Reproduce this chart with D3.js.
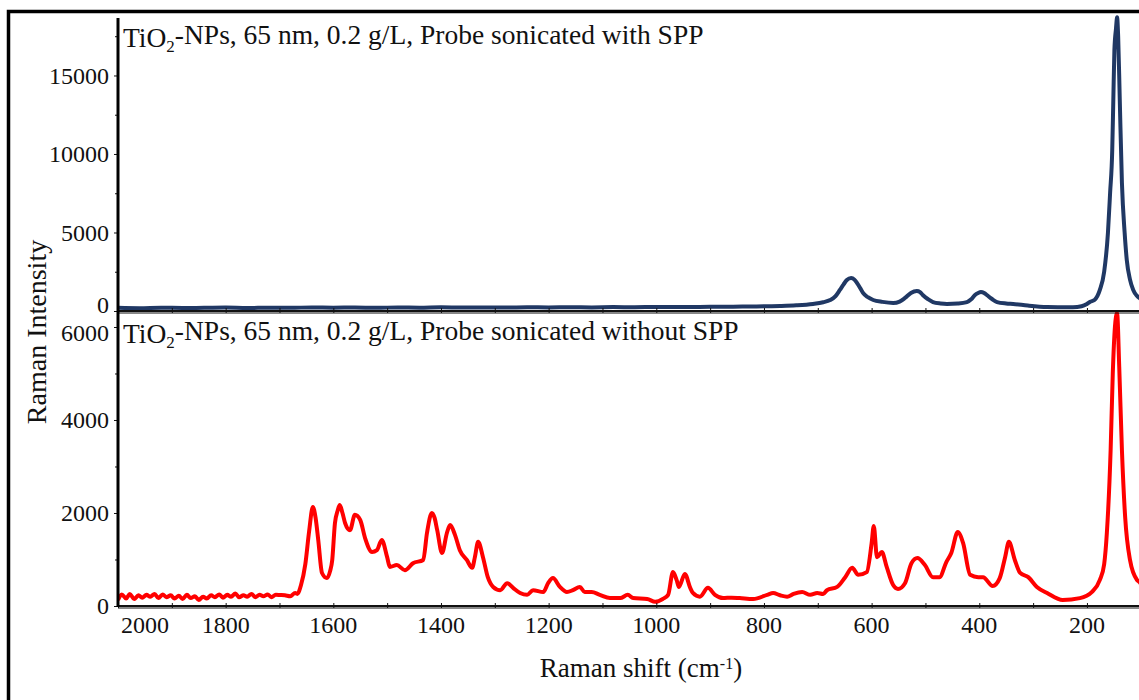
<!DOCTYPE html>
<html>
<head>
<meta charset="utf-8">
<script src="https://cdn.jsdelivr.net/npm/d3@7"></script>
<style>
    body { margin: 0; background: #fff; }
    svg text { font-family: "Liberation Serif", "Times New Roman", serif; fill: #111; }
    .axis path, .axis line { stroke: #111; }
</style>
</head>
<body>
<div id="chart"></div>
<script>
// Raman shift (cm-1) and intensity
var withSppShift = [2000, 1960, 1920, 1880, 1840, 1800, 1760, 1720, 1680, 1640, 1600, 1560, 1520, 1480, 1440, 1400, 1360, 1320, 1280, 1240, 1200, 1160, 1120, 1080, 1040, 1000, 960, 920, 880, 840, 800, 770, 740, 709, 690, 677, 667, 659, 652, 646, 638, 632, 627, 621, 616, 607, 597, 580, 560, 548, 538, 527, 516, 510, 505, 495, 486, 472, 460, 440, 423, 415, 408, 402, 397, 391, 386, 377, 367, 350, 337, 310, 274, 250, 226, 210, 200, 194, 186, 176, 168, 161, 157, 153, 151, 149, 146, 144, 142, 139, 135, 130, 126, 120, 114, 108, 103, 100];
var withSppIntensity = [200, 180, 210, 190, 200, 220, 190, 210, 200, 230, 210, 220, 200, 230, 210, 240, 220, 230, 220, 240, 230, 240, 230, 250, 240, 260, 250, 260, 270, 280, 300, 320, 360, 450, 560, 700, 950, 1340, 1700, 1970, 2100, 2000, 1780, 1450, 1150, 880, 700, 580, 510, 600, 830, 1150, 1270, 1200, 1020, 750, 570, 480, 450, 480, 570, 750, 1020, 1150, 1210, 1150, 1020, 780, 570, 480, 450, 350, 255, 240, 235, 300, 450, 590, 700, 1340, 2500, 4970, 7500, 10250, 13440, 16600, 18000, 18700, 17500, 13440, 8150, 5000, 3250, 2000, 1340, 1000, 830, 780];

var withoutSppShift = [2000, 1993, 1985, 1978, 1970, 1962, 1955, 1947, 1940, 1932, 1925, 1917, 1910, 1902, 1895, 1887, 1880, 1872, 1865, 1857, 1850, 1842, 1835, 1827, 1820, 1812, 1805, 1797, 1790, 1782, 1775, 1767, 1760, 1752, 1745, 1737, 1730, 1722, 1715, 1707, 1699, 1690, 1680, 1671, 1667, 1660, 1652, 1645, 1638, 1633, 1628, 1621, 1612, 1606, 1602, 1597, 1592, 1588, 1583, 1578, 1569, 1560, 1550, 1541, 1528, 1519, 1510, 1500, 1495, 1482, 1467, 1452, 1433, 1426, 1417, 1412, 1407, 1398, 1389, 1383, 1374, 1365, 1352, 1342, 1337, 1331, 1322, 1313, 1303, 1290, 1277, 1266, 1253, 1240, 1229, 1210, 1201, 1192, 1179, 1166, 1155, 1142, 1133, 1120, 1105, 1086, 1067, 1053, 1043, 1017, 1002, 988, 978, 969, 962, 958, 947, 937, 932, 919, 904, 891, 876, 860, 845, 820, 794, 783, 770, 757, 745, 729, 714, 701, 690, 683, 664, 649, 636, 625, 609, 600, 596, 590, 581, 572, 560, 551, 538, 526, 515, 501, 486, 474, 461, 452, 440, 430, 417, 402, 393, 375, 362, 352, 345, 334, 324, 309, 293, 274, 245, 213, 191, 176, 168, 163, 156, 152, 148, 144, 140, 135, 129, 120, 107, 103, 100];
var withoutSppIntensity = [130, 250, 160, 260, 150, 230, 180, 240, 200, 260, 170, 250, 190, 230, 160, 220, 150, 240, 170, 210, 130, 200, 160, 230, 190, 250, 180, 240, 200, 270, 190, 230, 200, 260, 190, 240, 210, 250, 190, 240, 236, 230, 210, 280, 260, 450, 900, 1600, 2130, 1900, 1420, 710, 600, 750, 990, 1780, 2050, 2170, 2000, 1780, 1630, 1960, 1850, 1460, 1160, 1200, 1420, 1050, 840, 880, 770, 920, 990, 1570, 2000, 1900, 1630, 1140, 1570, 1740, 1530, 1200, 990, 820, 1050, 1380, 1050, 620, 410, 340, 490, 390, 280, 240, 340, 300, 490, 600, 410, 300, 340, 410, 300, 300, 240, 170, 170, 240, 170, 150, 90, 150, 240, 730, 550, 410, 690, 390, 280, 200, 390, 240, 170, 180, 170, 150, 240, 280, 230, 200, 260, 300, 240, 280, 260, 340, 410, 620, 820, 670, 730, 1350, 1720, 1050, 1160, 840, 450, 365, 490, 920, 1030, 880, 620, 620, 950, 1140, 1590, 1350, 670, 620, 620, 430, 600, 1050, 1380, 990, 710, 620, 410, 280, 130, 170, 300, 560, 900, 1570, 3350, 5000, 6000, 6300, 5140, 3350, 1910, 990, 560, 520, 480];

var shiftTicks = [2000, 1800, 1600, 1400, 1200, 1000, 800, 600, 400, 200];
var topTicks = [0, 5000, 10000, 15000];
var bottomTicks = [0, 2000, 4000, 6000];

var topTitle = "Probe sonicated with SPP";
var bottomTitle = "Probe sonicated without SPP";

var width = 1139, height = 700;

var svg = d3.select("#chart").append("svg")
    .attr("width", width)
    .attr("height", height);

// outer frame (cut off on the right and bottom like the picture)
svg.append("rect")
    .attr("x", 8.5).attr("y", 11.5)
    .attr("width", 1200).attr("height", 800)
    .attr("fill", "none")
    .attr("stroke", "#000")
    .attr("stroke-width", 3.5);

var left = 118, panelTop = 18, panelMid = 311, panelBottom = 606;

var x = d3.scaleLinear().domain([2000, 100]).range([left, left + 1900 * 0.5383]);
var yTop = d3.scaleLinear().domain([0, 18660]).range([panelMid, panelTop]);
var yBottom = d3.scaleLinear().domain([0, 6344]).range([panelBottom, panelMid]);

function toPoints(xs, ys) {
    return xs.map(function (s, i) { return {shift: s, value: ys[i]}; });
}

svg.append("clipPath").attr("id", "plotClip")
    .append("rect")
    .attr("x", left).attr("y", 0)
    .attr("width", width - left).attr("height", panelBottom + 2);

function drawSpectrum(points, y, colour) {
    var line = d3.line()
        .x(function (d) { return x(d.shift); })
        .y(function (d) { return y(d.value); })
        .curve(d3.curveMonotoneX);
    svg.append("path")
        .datum(points)
        .attr("clip-path", "url(#plotClip)")
        .attr("fill", "none")
        .attr("stroke", colour)
        .attr("stroke-width", 4)
        .attr("stroke-linejoin", "round")
        .attr("d", line);
}

// x axis lines with tick marks (top panel has no labels)
function drawShiftAxis(yPos, withLabels) {
    var ax = svg.append("g")
        .attr("class", "axis")
        .attr("transform", "translate(0," + yPos + ")");
    ax.append("line")
        .attr("x1", left).attr("x2", width)
        .attr("stroke-width", 2.2);
    ax.append("line")
        .attr("x1", left).attr("x2", width)
        .attr("y1", 2).attr("y2", 2)
        .attr("stroke", "#999")
        .attr("stroke-width", 1);
    ax.append("g")
        .attr("transform", "translate(0,-3)")
        .call(d3.axisBottom(x).tickValues(d3.range(100, 2001, 100)).tickSize(5).tickFormat(""))
        .call(function (g) { g.select(".domain").remove(); });
    if (withLabels) {
        ax.selectAll(".shiftLabel")
            .data(shiftTicks)
            .enter().append("text")
            .attr("class", "shiftLabel")
            .attr("x", function (d) { return d === 2000 ? x(d) + 27 : x(d); })
            .attr("y", 27)
            .attr("text-anchor", "middle")
            .style("font-size", "24px")
            .text(function (d) { return d; });
    }
}

drawSpectrum(toPoints(withSppShift, withSppIntensity), yTop, "#203864");
drawSpectrum(toPoints(withoutSppShift, withoutSppIntensity), yBottom, "#ff0000");

drawShiftAxis(panelMid, false);
drawShiftAxis(panelBottom, true);

// y axes
function drawIntensityAxis(y, ticks, minorStep, nudge) {
    var g = svg.append("g")
        .attr("class", "axis")
        .attr("transform", "translate(" + left + ",0)")
        .call(d3.axisLeft(y).tickValues(ticks).tickSize(4).tickPadding(5).tickFormat(d3.format("d")))
        .call(function (g) { g.select(".domain").remove(); });
    g.selectAll("text")
        .style("font-size", "24px")
        .attr("dy", function (d) { return nudge[d] !== undefined ? nudge[d] : "0.33em"; });
    svg.append("g")
        .attr("class", "axis")
        .attr("transform", "translate(" + left + ",0)")
        .call(d3.axisLeft(y).tickValues(d3.range(minorStep, y.domain()[1], minorStep * 2)).tickSize(3).tickFormat(""))
        .call(function (g) { g.select(".domain").remove(); });
}

drawIntensityAxis(yTop, topTicks, 2500, {0: "0.05em"});
drawIntensityAxis(yBottom, bottomTicks, 1000, {6000: "0.55em"});

svg.append("line")
    .attr("x1", left).attr("x2", left)
    .attr("y1", panelTop).attr("y2", panelBottom + 1)
    .attr("stroke", "#000")
    .attr("stroke-width", 3);

// panel titles
function drawTitle(yBase, tail) {
    var t = svg.append("text")
        .attr("x", 123).attr("y", yBase)
        .style("font-size", "27.5px");
    t.append("tspan").text("TiO");
    t.append("tspan").attr("dy", "0.3em").style("font-size", "17px").text("2");
    t.append("tspan").attr("dy", "-0.3em").text("-NPs, 65 nm, 0.2 g/L, " + tail);
}
drawTitle(47, topTitle);
drawTitle(343, bottomTitle);

// axis titles
svg.append("text")
    .attr("transform", "translate(46,332) rotate(-90)")
    .attr("text-anchor", "middle")
    .style("font-size", "28px")
    .text("Raman Intensity");

var xt = svg.append("text")
    .attr("x", 641).attr("y", 677)
    .attr("text-anchor", "middle")
    .style("font-size", "27px");
xt.append("tspan").text("Raman shift (cm");
xt.append("tspan").attr("dy", "-0.5em").style("font-size", "16px").text("-1");
xt.append("tspan").attr("dy", "0.3em").text(")");
</script>
</body>
</html>
